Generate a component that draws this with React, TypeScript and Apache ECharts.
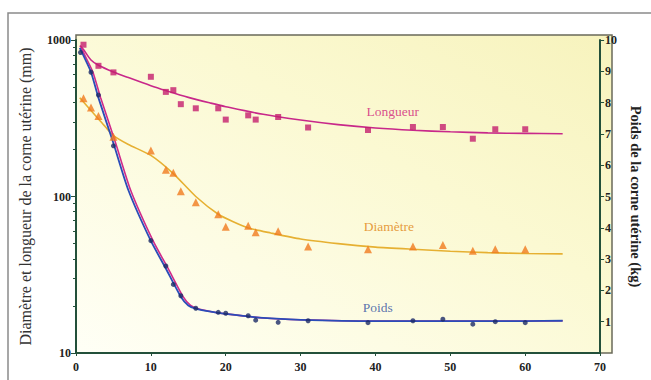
import React, { useEffect, useRef } from "react";
import * as echarts from "echarts";

// ---- data ----
const xTicks = [0, 10, 20, 30, 40, 50, 60, 70];

const longueurX = [1, 3, 5, 10, 12, 13, 14, 16, 19, 20, 23, 24, 27, 31, 39, 45, 49, 53, 56, 60];
const longueurY = [933, 684, 621, 582, 466, 478, 389, 366, 366, 310, 330, 310, 322, 276, 266, 278, 278, 234, 269, 269];
const longueurFitX = [0.5, 1, 2, 3, 5, 7, 10, 12, 15, 18, 20, 25, 30, 35, 40, 45, 50, 55, 60, 65];
const longueurFitY = [920, 870, 745, 690, 625, 575, 510, 475, 430, 395, 375, 335, 308, 288, 274, 265, 259, 255, 253, 252];

const diametreX = [1, 2, 3, 5, 10, 12, 13, 14, 16, 19, 20, 23, 24, 27, 31, 39, 45, 49, 53, 56, 60];
const diametreY = [425, 370, 327, 241, 197, 148, 142, 108, 92, 77, 64, 65, 59, 60, 48, 46, 48, 49, 45, 46, 46];
const diametreFitX = [0.5, 1, 2, 3, 4, 5, 7, 10, 13, 16, 19, 21, 23, 26, 30, 35, 40, 45, 50, 55, 60, 65];
const diametreFitY = [428, 402, 354, 313, 276, 245, 215, 183, 140, 100, 77, 69, 63, 58.5, 53.5, 50, 47.5, 46, 44.7, 43.8, 43.2, 43];

const poidsX = [0.6, 2, 3, 5, 10, 12, 13, 14, 16, 19, 20, 23, 24, 27, 31, 39, 45, 49, 53, 56, 60];
const poidsY = [9.6, 8.97, 8.24, 6.62, 3.59, 2.78, 2.19, 1.83, 1.43, 1.3, 1.27, 1.19, 1.05, 0.98, 1.03, 0.97, 1.03, 1.08, 0.92, 1.0, 0.97];
const poidsFitX = [0.5, 1, 2, 3, 5, 7, 10, 12, 14, 15, 16, 18, 20, 25, 30, 40, 50, 60, 65];
const poidsFitY = [9.75, 9.5, 8.98, 8.15, 6.7, 5.2, 3.58, 2.7, 1.8, 1.52, 1.42, 1.32, 1.25, 1.12, 1.06, 1.02, 1.02, 1.02, 1.03];
const poidsFitShadowX = [0.7, 1.2, 2.25, 3.3, 5.3, 7.3, 10.3, 12.3, 14.3, 15.3, 16.2, 18.1, 20, 25, 30, 40, 50, 60, 65];

const leftMajor = [10, 100, 1000];
const leftMinor = [20, 30, 40, 50, 60, 70, 80, 90, 200, 300, 400, 500, 600, 700, 800, 900];
const rightTicks = [1, 2, 3, 4, 5, 6, 7, 8, 9, 10];

const labels = [
  { name: "Longueur", x: 42.3, y: 351, axis: 0, color: "#d0207a" },
  { name: "Diamètre", x: 41.8, y: 64, axis: 0, color: "#e0820f" },
  { name: "Poids", x: 40.3, y: 1.44, axis: 1, color: "#3050a0" },
];

const zip = (xs: number[], ys: number[]) => xs.map((x, i) => [x, ys[i]]);

const AXIS_COLOR = "#23503a";
const FONT = "'Liberation Serif', 'Times New Roman', serif";

export default function App() {
  const ref = useRef<HTMLDivElement>(null);

  useEffect(() => {
    if (!ref.current) return;
    const chart = echarts.init(ref.current, undefined, { renderer: "svg" });

    const labelSeries = (axis: number) => ({
      type: "scatter",
      yAxisIndex: axis,
      symbolSize: 0,
      silent: true,
      data: labels
        .filter((l) => l.axis === axis)
        .map((l) => ({
          value: [l.x, l.y],
          label: {
            show: true,
            position: "inside",
            formatter: l.name,
            color: l.color,
            fontFamily: FONT,
            fontSize: 13.5,
          },
        })),
      z: 10,
    });

    chart.setOption({
      animation: false,
      backgroundColor: "#ffffff",
      graphic: [
        {
          type: "rect",
          z: -10,
          silent: true,
          shape: { x: 8, y: 13, width: 700, height: 420 },
          style: { fill: "#ffffff", stroke: "#8a8a8a", lineWidth: 1.5 },
        },
        {
          type: "rect",
          z: -5,
          silent: true,
          shape: { x: 76, y: 35, width: 536, height: 318 },
          style: {
            fill: new echarts.graphic.LinearGradient(0, 1, 1, 0, [
              { offset: 0, color: "#fffff6" },
              { offset: 0.6, color: "#fbf9d2" },
              { offset: 1, color: "#f7f3bd" },
            ]),
            stroke: "#6a6a5a",
            lineWidth: 1.5,
          },
        },
      ],
      grid: { left: 76, right: 39, top: 40, bottom: 27, containLabel: false },
      xAxis: {
        type: "value",
        min: 0,
        max: 70,
        interval: 10,
        axisLine: { show: true, lineStyle: { color: AXIS_COLOR, width: 2 } },
        axisTick: { show: true, length: 3, lineStyle: { color: AXIS_COLOR }, customValues: xTicks },
        axisLabel: {
          color: "#222",
          fontFamily: FONT,
          fontWeight: "bold",
          fontSize: 12,
          margin: 8,
          customValues: xTicks,
        },
        splitLine: { show: false },
      },
      yAxis: [
        {
          type: "log",
          logBase: 10,
          min: 10,
          max: 1000,
          position: "left",
          name: "Diamètre et longueur de la corne utérine (mm)",
          nameLocation: "middle",
          nameGap: 43,
          nameTextStyle: { color: "#333", fontFamily: FONT, fontSize: 16 },
          axisLine: { show: true, lineStyle: { color: AXIS_COLOR, width: 2 } },
          axisTick: { show: true, length: 5, lineStyle: { color: AXIS_COLOR }, customValues: leftMajor },
          axisLabel: {
            color: "#222",
            fontFamily: FONT,
            fontWeight: "bold",
            fontSize: 12,
            margin: 5,
            customValues: leftMajor,
            formatter: (v: number) => String(Math.round(v)),
          },
          splitLine: { show: false },
        },
        {
          type: "value",
          min: 0,
          max: 10,
          interval: 1,
          position: "right",
          name: "Poids de la corne utérine (kg)",
          nameLocation: "middle",
          nameRotate: -90,
          nameGap: 22,
          nameTextStyle: { color: "#222", fontFamily: FONT, fontSize: 14.5, fontWeight: "bold" },
          axisLine: { show: true, lineStyle: { color: AXIS_COLOR, width: 2 } },
          axisTick: { show: true, length: 4, lineStyle: { color: AXIS_COLOR }, customValues: rightTicks },
          axisLabel: {
            color: "#222",
            fontFamily: FONT,
            fontWeight: "bold",
            fontSize: 12,
            margin: 5,
            customValues: rightTicks,
          },
          splitLine: { show: false },
        },
        {
          type: "log",
          logBase: 10,
          min: 10,
          max: 1000,
          position: "left",
          axisLine: { show: false },
          axisTick: { show: true, length: 3, lineStyle: { color: AXIS_COLOR }, customValues: leftMinor },
          axisLabel: { show: false },
          splitLine: { show: false },
        },
      ],
      series: [
        {
          name: "Longueur ajustée",
          type: "line",
          yAxisIndex: 0,
          smooth: 0.3,
          symbol: "none",
          lineStyle: { color: "#c8288a", width: 1.6 },
          data: zip(longueurFitX, longueurFitY),
          z: 3,
        },
        {
          name: "Diamètre ajusté",
          type: "line",
          yAxisIndex: 0,
          smooth: 0.2,
          symbol: "none",
          lineStyle: { color: "#e6b032", width: 1.6 },
          data: zip(diametreFitX, diametreFitY),
          z: 3,
        },
        {
          name: "Poids ajusté (ombre)",
          type: "line",
          yAxisIndex: 1,
          smooth: 0.2,
          symbol: "none",
          lineStyle: { color: "#d02a8a", width: 1.6 },
          data: zip(poidsFitShadowX, poidsFitY),
          z: 3,
        },
        {
          name: "Poids ajusté",
          type: "line",
          yAxisIndex: 1,
          smooth: 0.2,
          symbol: "none",
          lineStyle: { color: "#2a4cb8", width: 1.8 },
          data: zip(poidsFitX, poidsFitY),
          z: 4,
        },
        {
          name: "Longueur",
          type: "scatter",
          yAxisIndex: 0,
          symbol: "rect",
          symbolSize: 6,
          itemStyle: { color: "#c41e6e" },
          data: zip(longueurX, longueurY),
          z: 5,
        },
        {
          name: "Diamètre",
          type: "scatter",
          yAxisIndex: 0,
          symbol: "triangle",
          symbolSize: 8,
          itemStyle: { color: "#f07a1e" },
          data: zip(diametreX, diametreY),
          z: 5,
        },
        {
          name: "Poids",
          type: "scatter",
          yAxisIndex: 1,
          symbol: "circle",
          symbolSize: 5,
          itemStyle: { color: "#1c2a66" },
          data: zip(poidsX, poidsY),
          z: 5,
        },
        labelSeries(0),
        labelSeries(1),
      ],
    });

    return () => chart.dispose();
  }, []);

  return <div ref={ref} style={{ width: 651, height: 380, position: "absolute", left: 0, top: 0 }} />;
}
